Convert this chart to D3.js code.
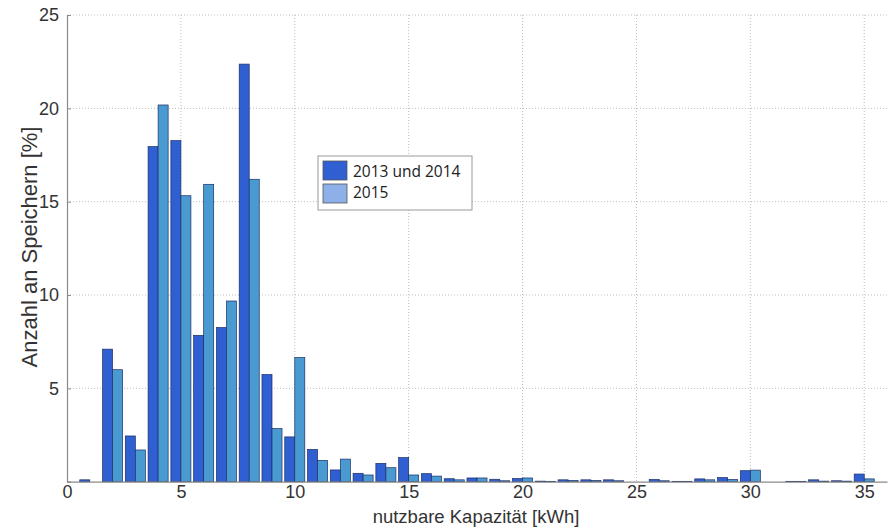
<!DOCTYPE html>
<html><head><meta charset="utf-8">
<script src="https://cdn.jsdelivr.net/npm/d3@7"></script>
<style>body{margin:0;background:#fff}svg{display:block}</style>
</head><body>
<svg id="c" width="892" height="528"></svg>
<script>
const bins = [1,2,3,4,5,6,7,8,9,10,11,12,13,14,15,16,17,18,19,20,21,22,23,24,25,26,27,28,29,30,31,32,33,34,35];
const s2013_2014 = [0.1,7.1,2.45,17.95,18.27,7.84,8.26,22.37,5.74,2.4,1.73,0.63,0.45,0.98,1.29,0.43,0.16,0.2,0.13,0.17,0.03,0.1,0.1,0.1,0,0.12,0.02,0.15,0.22,0.59,0,0.02,0.1,0.05,0.41];
const s2015 = [0,6.0,1.7,20.18,15.32,15.93,9.68,16.2,2.85,6.65,1.14,1.21,0.36,0.75,0.36,0.3,0.1,0.2,0.05,0.2,0.02,0.07,0.07,0.05,0,0.05,0.02,0.1,0.12,0.62,0,0.02,0.03,0.03,0.15];
const seriesNames = ["2013 und 2014","2015"];
const xTicks = [0,5,10,15,20,25,30,35];
const yTicks = [5,10,15,20,25];

const svg = d3.select("#c");
const L=67, R=887, T=15, B=481.7;
const x = d3.scaleLinear().domain([0,36]).range([L,R]);
const y = d3.scaleLinear().domain([0,25]).range([B,T]);
const font = "Liberation Sans, Arial, sans-serif";

// grid
const g = svg.append("g");
g.selectAll(".gx").data(xTicks.filter(d=>d>0)).enter().append("line")
 .attr("x1",d=>x(d)).attr("x2",d=>x(d)).attr("y1",T).attr("y2",B)
 .attr("stroke","#bdbdbd").attr("stroke-width",1).attr("stroke-dasharray","1,2");
g.selectAll(".gy").data(yTicks).enter().append("line")
 .attr("x1",L).attr("x2",R).attr("y1",d=>y(d)).attr("y2",d=>y(d))
 .attr("stroke","#bdbdbd").attr("stroke-width",1).attr("stroke-dasharray","1,2");

// bars
const bw = 0.44;
const barG = svg.append("g");
barG.selectAll(".b1").data(bins.map((b,i)=>({b,v:s2013_2014[i]}))).enter().append("rect")
 .attr("x",d=>x(d.b-bw)).attr("width",x(bw)-x(0))
 .attr("y",d=>y(d.v)).attr("height",d=>B-y(d.v))
 .attr("fill","#2f5fd0").attr("stroke","#1c2f66").attr("stroke-width",0.7);
barG.selectAll(".b2").data(bins.map((b,i)=>({b,v:s2015[i]}))).enter().append("rect")
 .attr("x",d=>x(d.b)).attr("width",x(bw)-x(0))
 .attr("y",d=>y(d.v)).attr("height",d=>B-y(d.v))
 .attr("fill","#4a9ad2").attr("stroke","#1c2f66").attr("stroke-width",0.7);

// axes
const xAxis = d3.axisBottom(x).tickValues(xTicks).tickSize(0).tickPadding(4);
const xa = svg.append("g").attr("transform",`translate(0,${B})`).call(xAxis);
xa.select(".domain").attr("stroke","#8a8a8a").attr("stroke-width",1.2);
xa.selectAll("text").attr("font-family",font).attr("font-size",18).attr("fill","#333");

const yAxis = d3.axisLeft(y).tickValues(yTicks).tickSize(-4).tickPadding(8);
const ya = svg.append("g").attr("transform",`translate(${L},0)`).call(yAxis);
ya.select(".domain").attr("stroke","#8a8a8a").attr("stroke-width",1.2);
ya.selectAll(".tick line").attr("stroke","#8a8a8a");
ya.selectAll("text").attr("font-family",font).attr("font-size",18).attr("fill","#333");

// labels
svg.append("text").attr("x",(L+R)/2 - 1).attr("y",523).attr("text-anchor","middle")
 .attr("font-family",font).attr("font-size",18.5).attr("fill","#333").text("nutzbare Kapazität [kWh]");
svg.append("text").attr("transform",`translate(37,247) rotate(-90)`).attr("text-anchor","middle")
 .attr("font-family",font).attr("font-size",22).attr("fill","#333").text("Anzahl an Speichern [%]");

// legend
const lg = svg.append("g").attr("transform","translate(318,156)");
lg.append("rect").attr("width",154).attr("height",54).attr("fill","#fff").attr("stroke","#999").attr("stroke-width",1);
const legendColors = ["#2f5fd0","#8eb0e8"];
seriesNames.forEach((n,i)=>{
  lg.append("rect").attr("x",5).attr("y",5+i*23).attr("width",24).attr("height",19)
    .attr("fill",legendColors[i]).attr("stroke","#555").attr("stroke-width",0.8);
  lg.append("text").attr("x",35).attr("y",21+i*20.5).attr("font-family","Open Sans, sans-serif")
    .attr("font-size",15.5).attr("fill","#222").text(n);
});
</script>
</body></html>
